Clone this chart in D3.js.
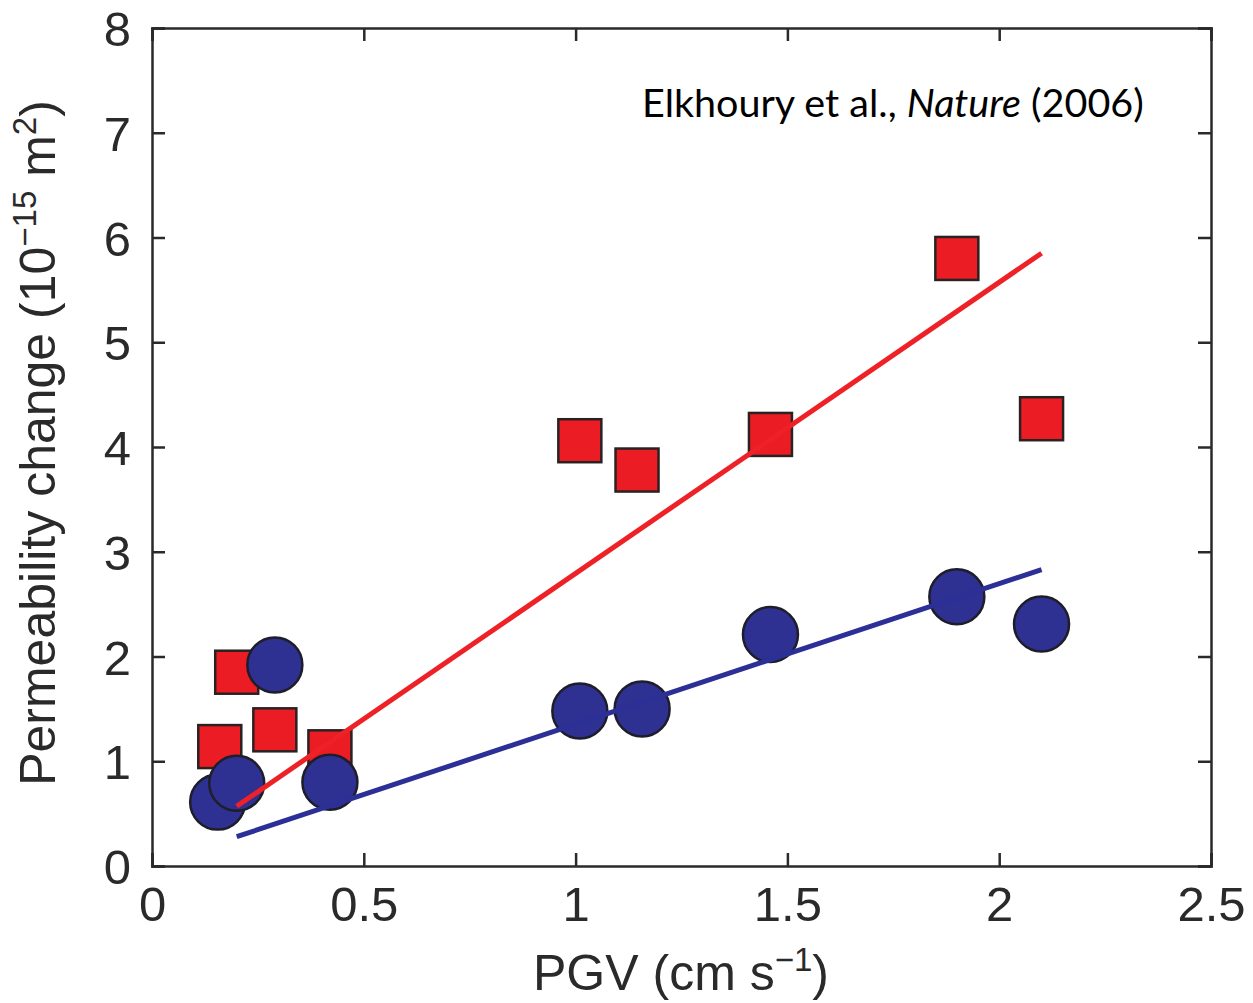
<!DOCTYPE html>
<html>
<head>
<meta charset="utf-8">
<script src="https://cdn.jsdelivr.net/npm/d3@7"></script>
<style>
  html, body { margin: 0; padding: 0; background: #fff; }
  svg { display: block; }
  .axis text { font-family: "Liberation Sans", Arial, sans-serif; fill: #2a2a2a; }
  .axis path, .axis line { stroke: #2a2a2a; }
</style>
</head>
<body>
<svg id="chart" width="1253" height="1003"></svg>
<script>
// Peak ground velocity (cm/s) and permeability change (1e-15 m^2)
const squareX = [0.20, 0.16, 0.29, 0.42, 1.01, 1.145, 1.46, 1.90, 2.10];
const squareY = [1.85, 1.14, 1.30, 1.09, 4.06, 3.78, 4.12, 5.80, 4.27];
const circleX = [0.29, 0.155, 0.20, 0.42, 1.01, 1.157, 1.46, 1.90, 2.10];
const circleY = [1.92, 0.61, 0.79, 0.80, 1.48, 1.50, 2.21, 2.57, 2.31];
// Fitted trend lines (end points)
const redFitX = [0.20, 2.10];
const redFitY = [0.57, 5.85];
const blueFitX = [0.20, 2.10];
const blueFitY = [0.28, 2.83];
const xTicks = [0, 0.5, 1, 1.5, 2, 2.5];
const yTicks = [0, 1, 2, 3, 4, 5, 6, 7, 8];

const svg = d3.select("#chart");
const plotLeft = 152, plotRight = 1211, plotTop = 28, plotBottom = 866;

const x = d3.scaleLinear().domain([0, 2.5]).range([plotLeft, plotRight]);
const y = d3.scaleLinear().domain([0, 8]).range([plotBottom, plotTop]);

const fontSize = 49;
const tickLen = 13;

// Frame axes with inward ticks
const gB = svg.append("g").attr("class", "axis").attr("transform", `translate(0,${plotBottom})`)
  .call(d3.axisBottom(x).tickValues(xTicks).tickSize(-tickLen).tickPadding(20)
        .tickFormat(d => d3.format("~g")(d)));
const gT = svg.append("g").attr("class", "axis").attr("transform", `translate(0,${plotTop})`)
  .call(d3.axisTop(x).tickValues(xTicks).tickSize(-tickLen).tickFormat(""));
const gL = svg.append("g").attr("class", "axis").attr("transform", `translate(${plotLeft},0)`)
  .call(d3.axisLeft(y).tickValues(yTicks).tickSize(-tickLen).tickPadding(21)
        .tickFormat(d3.format("d")));
const gR = svg.append("g").attr("class", "axis").attr("transform", `translate(${plotRight},0)`)
  .call(d3.axisRight(y).tickValues(yTicks).tickSize(-tickLen).tickFormat(""));

[gB, gT, gL, gR].forEach(g => {
  g.select(".domain").attr("stroke-width", 2.5);
  g.selectAll(".tick line").attr("stroke-width", 2.5);
  g.selectAll("text").attr("font-size", fontSize);
});
gB.selectAll(".tick text").attr("dy", "0.72em");
gL.selectAll(".tick text").attr("dy", "0.36em");

// Scatter markers
const sq = 43;
svg.append("g").selectAll("rect")
  .data(squareX.map((v, i) => [v, squareY[i]]))
  .join("rect")
  .attr("x", d => x(d[0]) - sq / 2)
  .attr("y", d => y(d[1]) - sq / 2)
  .attr("width", sq).attr("height", sq)
  .attr("fill", "#ec1c24").attr("stroke", "#2a2222").attr("stroke-width", 2.5);

svg.append("g").selectAll("circle")
  .data(circleX.map((v, i) => [v, circleY[i]]))
  .join("circle")
  .attr("cx", d => x(d[0]))
  .attr("cy", d => y(d[1]))
  .attr("r", 27.5)
  .attr("fill", "#2e3192").attr("stroke", "#1e1e2a").attr("stroke-width", 2.5);

// Trend lines
const line = d3.line().x(d => x(d[0])).y(d => y(d[1]));
svg.append("path")
  .datum(blueFitX.map((v, i) => [v, blueFitY[i]]))
  .attr("d", line).attr("fill", "none").attr("stroke", "#2b2f96").attr("stroke-width", 5);
svg.append("path")
  .datum(redFitX.map((v, i) => [v, redFitY[i]]))
  .attr("d", line).attr("fill", "none").attr("stroke", "#ee2127").attr("stroke-width", 5);

// Axis titles
const titleSize = 50, supSize = 33, supShift = 19;
const xTitle = svg.append("text")
  .attr("x", 681).attr("y", 990)
  .attr("text-anchor", "middle")
  .attr("font-family", "Liberation Sans, Arial, sans-serif")
  .attr("font-size", titleSize).attr("fill", "#2a2a2a");
xTitle.append("tspan").text("PGV (cm s");
xTitle.append("tspan").attr("font-size", supSize).attr("dy", -supShift).text("\u2212" + "1");
xTitle.append("tspan").attr("dy", supShift).text(")");

const yTitle = svg.append("text")
  .attr("transform", "translate(55,443) rotate(-90)")
  .attr("text-anchor", "middle")
  .attr("font-family", "Liberation Sans, Arial, sans-serif")
  .attr("font-size", titleSize).attr("fill", "#2a2a2a");
yTitle.append("tspan").text("Permeability change (10");
yTitle.append("tspan").attr("font-size", supSize).attr("dy", -supShift).text("\u2212" + "15");
yTitle.append("tspan").attr("dy", supShift).text(" m");
yTitle.append("tspan").attr("font-size", supSize).attr("dy", -supShift).text("2");
yTitle.append("tspan").attr("dy", supShift).text(")");

// Source note
const note = svg.append("text")
  .attr("x", 642).attr("y", 117)
  .attr("font-family", "Lato, Carlito, Calibri, sans-serif")
  .attr("font-size", 39.5).attr("fill", "#000");
note.append("tspan").text("Elkhoury et al., ");
note.append("tspan").attr("font-style", "italic").text("Nature");
note.append("tspan").text(" (2006)");
</script>
</body>
</html>
